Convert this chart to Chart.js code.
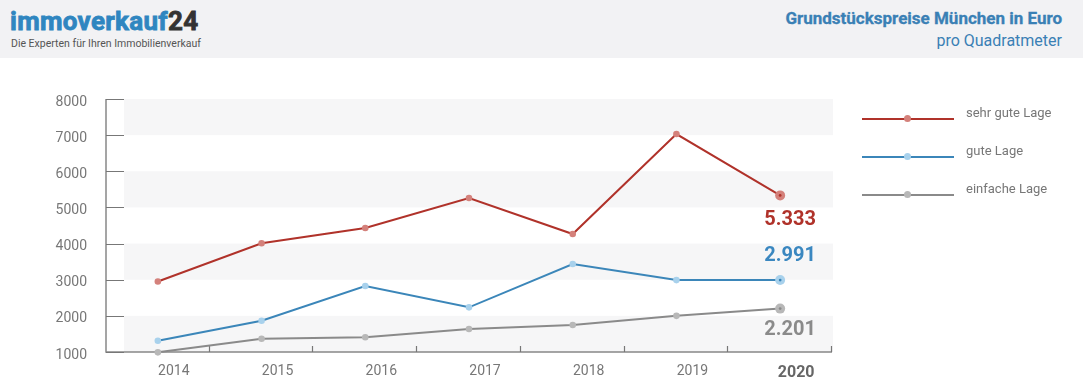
<!DOCTYPE html>
<html><head><meta charset="utf-8">
<script src="https://cdn.jsdelivr.net/npm/chart.js@4.4.1/dist/chart.umd.min.js"></script>
<style>
html,body{margin:0;padding:0;background:#fff;}
#wrap{position:relative;width:1083px;height:380px;overflow:hidden;font-family:Roboto,"Open Sans",sans-serif;}
#hdr{position:absolute;left:0;top:0;width:1083px;height:58px;background:#f2f2f4;}
#logo{position:absolute;left:10px;top:6px;font-size:26px;font-weight:bold;color:#2f86c0;letter-spacing:0.3px;line-height:30px;-webkit-text-stroke:0.8px #2f86c0;}
#logo span{color:#333;-webkit-text-stroke:0.8px #333;}
#sub{position:absolute;left:11px;top:37px;font-size:10.5px;color:#555;line-height:13px;}
#t1{position:absolute;right:21px;top:8px;font-size:17px;font-weight:bold;color:#3a80b5;line-height:20px;-webkit-text-stroke:0.3px #3a80b5;}
#t2{position:absolute;right:21px;top:31px;font-size:16px;color:#3a80b5;line-height:20px;}
canvas{position:absolute;left:0;top:0;}
.lg{position:absolute;left:862px;width:92px;height:0;border-top:2px solid;}
.lg i{position:absolute;left:42px;top:-5px;width:7px;height:7px;border-radius:50%;}
.lt{position:absolute;left:966px;font-size:13px;color:#777;line-height:16px;}
</style></head>
<body>
<div id="wrap">
<div id="hdr">
 <div id="logo">immoverkauf<span>24</span></div>
 <div id="sub">Die Experten für Ihren Immobilienverkauf</div>
 <div id="t1">Grundstückspreise München in Euro</div>
 <div id="t2">pro Quadratmeter</div>
</div>
<canvas id="c" width="1083" height="380"></canvas>
<div id="legend"></div>
</div>
<script>
const years = ['2014','2015','2016','2017','2018','2019','2020'];
const seriesNames = ['sehr gute Lage','gute Lage','einfache Lage'];
const sehrGuteLage = [2950, 4010, 4430, 5260, 4265, 7030, 5333];
const guteLage = [1310, 1866, 2826, 2236, 3435, 2990, 2991];
const einfacheLage = [990, 1368, 1407, 1636, 1747, 2000, 2201];
const yTicks = [1000,2000,3000,4000,5000,6000,7000,8000];
const lastLabels = ['5.333','2.991','2.201'];

const lineColors = ['#b0322a','#3b86b9','#8a8a8a'];
const pointColors = ['#d4817b','#a8d1ec','#b8b8b8'];
const labelColors = ['#b0322a','#3a87c0','#8a8a8a'];
const labelShift = [25,-24,21];

const lg = document.getElementById('legend');
const legY = [119,157,195];
seriesNames.forEach((n,i)=>{
  const d=document.createElement('div');d.className='lg';d.style.top=(legY[i]-1)+'px';d.style.borderColor=lineColors[i];
  const dot=document.createElement('i');dot.style.background=pointColors[i];d.appendChild(dot);lg.appendChild(d);
  const t=document.createElement('div');t.className='lt';t.style.top=(legY[i]-14)+'px';t.textContent=n;lg.appendChild(t);
});

const axisPlugin = {
  id:'axisDeco',
  beforeDatasetsDraw(chart){
    const {ctx, chartArea:a, scales:{x,y}} = chart;
    ctx.save();
    ctx.fillStyle='#f6f6f7';
    for(let i=0;i<yTicks.length-1;i++){
      if(i%2===0){
        const y1=y.getPixelForValue(yTicks[i]), y2=y.getPixelForValue(yTicks[i+1]);
        ctx.fillRect(a.left+18, y2, a.right-(a.left+18)+1, y1-y2);
      }
    }
    ctx.strokeStyle='#888';ctx.lineWidth=1.5;
    ctx.beginPath();
    ctx.moveTo(a.left, y.getPixelForValue(8000)); ctx.lineTo(a.left, a.bottom);
    ctx.lineTo(a.right, a.bottom);
    ctx.stroke();
    ctx.lineWidth=1.2;ctx.strokeStyle='#777';
    ctx.beginPath();
    yTicks.forEach(v=>{const py=Math.round(y.getPixelForValue(v))+0.5;ctx.moveTo(a.left,py);ctx.lineTo(a.left+18,py);});
    const w=(a.right-a.left)/years.length;
    for(let i=1;i<=years.length;i++){const px=Math.round(a.left+i*w)-0.5;ctx.moveTo(px,a.bottom);ctx.lineTo(px,a.bottom-6);}
    ctx.stroke();
    ctx.restore();
  },
  afterDatasetsDraw(chart){
    const {ctx} = chart;
    ctx.save();
    chart.data.datasets.forEach((ds,i)=>{
      const meta=chart.getDatasetMeta(i);
      const p=meta.data[ds.data.length-1];
      ctx.fillStyle=lineColors[i];
      ctx.beginPath();ctx.arc(p.x,p.y,1.4,0,Math.PI*2);ctx.fill();
      ctx.font='bold 20px Roboto, sans-serif';
      ctx.textAlign='center';ctx.textBaseline='middle';
      ctx.fillStyle=labelColors[i];
      ctx.fillText(lastLabels[i], p.x+10, p.y+labelShift[i]);
    });
    ctx.restore();
  }
};

const mk=(label,data,i)=>({label,data,borderColor:lineColors[i],backgroundColor:pointColors[i],
  pointBackgroundColor:pointColors[i],pointBorderWidth:0,
  pointRadius:c=>c.dataIndex===years.length-1?5:3.3,borderWidth:2,tension:0,clip:false});

new Chart(document.getElementById('c'),{
  type:'line',
  data:{labels:years,datasets:[mk(seriesNames[0],sehrGuteLage,0),mk(seriesNames[1],guteLage,1),mk(seriesNames[2],einfacheLage,2)]},
  options:{
    responsive:false,animation:false,devicePixelRatio:1,
    layout:{padding:{left:0,right:251,top:99,bottom:0}},
    plugins:{legend:{display:false},tooltip:{enabled:false}},
    scales:{
      x:{offset:true,grid:{display:false},border:{display:false},
        afterFit:s=>{s.height=28;},
        ticks:{padding:3,labelOffset:16,
          color:c=>c.index===6?'#666':'#777',
          font:c=>c.index===6?{family:'Roboto',size:16,weight:'bold'}:{family:'Roboto',size:14}}},
      y:{min:1000,max:8000,grid:{display:false},border:{display:false},
        afterFit:s=>{s.width=106;},
        ticks:{stepSize:1000,padding:11,labelOffset:3,color:'#777',font:{family:'Roboto',size:14},
          callback:v=>String(v)}}
    }
  },
  plugins:[axisPlugin]
});
</script>
</body></html>
